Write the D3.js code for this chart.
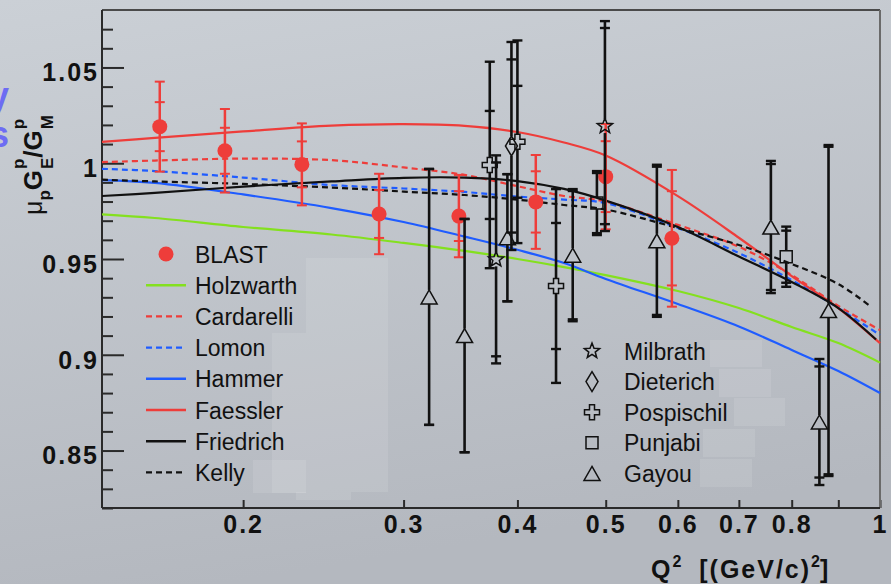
<!DOCTYPE html>
<html>
<head>
<meta charset="utf-8">
<script src="https://cdn.jsdelivr.net/npm/d3@7"></script>
<style>
body { margin: 0; overflow: hidden; }
svg { display: block; }
</style>
</head>
<body>
<script>
// ---- data ----
var qGrid = [0.14, 0.16, 0.2, 0.25, 0.3, 0.35, 0.4, 0.45, 0.5, 0.6, 0.7, 0.8, 0.9, 1.0];
var qFriedrich = [0.14, 0.16, 0.2, 0.25, 0.3, 0.35, 0.4, 0.45, 0.5, 0.6, 0.7, 0.8, 0.9, 0.99];
var qKelly = [0.14, 0.16, 0.2, 0.25, 0.3, 0.35, 0.4, 0.45, 0.5, 0.6, 0.7, 0.8, 0.9, 0.975];

var holzwarth  = [0.9733, 0.9714, 0.9667, 0.9628, 0.9584, 0.9542, 0.9500, 0.9458, 0.9416, 0.9333, 0.9244, 0.9145, 0.9061, 0.8959];
var cardarelli = [1.0006, 1.0014, 1.0024, 1.0016, 0.9978, 0.9939, 0.9880, 0.9829, 0.9800, 0.9678, 0.9564, 0.9416, 0.9255, 0.9129];
var lomon      = [0.9971, 0.9959, 0.9925, 0.9886, 0.9868, 0.9850, 0.9826, 0.9810, 0.9792, 0.9662, 0.9531, 0.9390, 0.9244, 0.9103];
var hammer     = [0.9912, 0.9897, 0.9837, 0.9766, 0.9693, 0.9617, 0.9548, 0.9479, 0.9396, 0.9265, 0.9148, 0.9025, 0.8915, 0.8800];
var faessler   = [1.0111, 1.0132, 1.0166, 1.0196, 1.0204, 1.0195, 1.0163, 1.0108, 1.0040, 0.9828, 0.9611, 0.9411, 0.9244, 0.9061];
var friedrich  = [0.9829, 0.9845, 0.9878, 0.9905, 0.9924, 0.9925, 0.9907, 0.9866, 0.9805, 0.9667, 0.9513, 0.9380, 0.9244, 0.9080];
var kelly      = [0.9914, 0.9905, 0.9892, 0.9873, 0.9852, 0.9834, 0.9810, 0.9782, 0.9758, 0.9662, 0.9573, 0.9474, 0.9369, 0.9255];

var blastQ    = [0.162, 0.191, 0.232, 0.282, 0.345, 0.419, 0.500, 0.591];
var blastR    = [1.0191, 1.0065, 0.9994, 0.9735, 0.9724, 0.9798, 0.9930, 0.9608];
var blastStat = [0.0128, 0.0120, 0.0120, 0.0125, 0.0130, 0.0160, 0.0185, 0.0246];
var blastTot  = [0.0235, 0.0218, 0.0214, 0.0210, 0.0215, 0.0245, 0.0275, 0.0357];

var milbrathQ = [0.379, 0.499];
var milbrathR = [0.9498, 1.0194];
var milbrathStat = [0.0506, 0.0512];
var milbrathTot = [0.0543, 0.0548];

var dieterichQ = [0.394];
var dieterichR = [1.0090];
var dieterichStat = [0.0452];
var dieterichTot = [0.0543];

var pospischilQ = [0.373, 0.400, 0.441];
var pospischilR = [0.9991, 1.0112, 0.9359];
var pospischilStat = [0.0282, 0.0292, 0.0329];
var pospischilTot = [0.0539, 0.0529, 0.0506];

var punjabiQ = [0.489, 0.789];
var punjabiR = [0.9792, 0.9512];
var punjabiStat = [0.0157, 0.0136];
var punjabiTot = [0.0167, 0.0157];

var gayouQ = [0.320, 0.350, 0.390, 0.460, 0.569, 0.759, 0.858, 0.878];
var gayouR = [0.9302, 0.9100, 0.9611, 0.9520, 0.9595, 0.9667, 0.8649, 0.9231];
var gayouStat = [0.0668, 0.0609, 0.0332, 0.0335, 0.0387, 0.0329, 0.0290, 0.0855];
var gayouTot = [0.0668, 0.0609, 0.0332, 0.0345, 0.0397, 0.0345, 0.0329, 0.0864];

var xTicks = [0.2, 0.3, 0.4, 0.5, 0.6, 0.7, 0.8, 0.9, 1];
var yMajor = [0.85, 0.9, 0.95, 1, 1.05];
var yMinor = [0.82, 0.83, 0.84, 0.86, 0.87, 0.88, 0.89, 0.91, 0.92, 0.93, 0.94,
              0.96, 0.97, 0.98, 0.99, 1.01, 1.02, 1.03, 1.04, 1.06, 1.07];

// ---- setup ----
var W = 891, H = 584;
var RED = "#ee3d3a", GREEN = "#84e01f", BLUE = "#1f5cff", BLK = "#111";

var svg = d3.select("body").append("svg")
    .attr("width", W)
    .attr("height", H)
    .style("font-family", "'Liberation Sans', Arial, sans-serif");

var defs = svg.append("defs");
var grad = defs.append("linearGradient").attr("id", "bg")
    .attr("x1", 0).attr("y1", 0).attr("x2", 0.25).attr("y2", 1);
grad.append("stop").attr("offset", "0%").attr("stop-color", "#cbd0d6");
grad.append("stop").attr("offset", "100%").attr("stop-color", "#b4b8bf");

svg.append("rect").attr("width", W).attr("height", H).attr("fill", "url(#bg)");

// leftover slide text, cut by the left edge as in the source picture
svg.append("text").attr("x", 9).attr("y", 108).attr("text-anchor", "end")
    .attr("font-size", 36).attr("font-weight", "bold").attr("fill", "#6d6cf3").text("y");
svg.append("text").attr("x", 9).attr("y", 147).attr("text-anchor", "end")
    .attr("font-size", 36).attr("font-weight", "bold").attr("fill", "#6d6cf3").text("s");

var x = d3.scaleLog().domain([0.14, 1]).range([102, 880]);
var y = d3.scaleLinear().domain([0.82, 1.08]).range([508, 10]);

// light patches behind the legends
var patches = [[306, 258, 82, 234], [272, 333, 34, 160], [253, 460, 53, 33], [296, 492, 55, 8],
               [710, 340, 52, 27], [719, 369, 52, 28], [734, 398, 51, 28], [703, 429, 52, 28], [700, 459, 52, 28]];
svg.selectAll("rect.patch").data(patches).enter().append("rect")
    .attr("class", "patch")
    .attr("x", function(d) { return d[0]; })
    .attr("y", function(d) { return d[1]; })
    .attr("width", function(d) { return d[2]; })
    .attr("height", function(d) { return d[3]; })
    .attr("fill", "#fff").attr("opacity", 0.1);

// ---- axes ----
var xAxis = d3.axisBottom(x).tickValues(xTicks)
    .tickSizeInner(-8).tickSizeOuter(0).tickPadding(7)
    .tickFormat(function(d) { return d === 0.9 ? "" : String(d); });
var gx = svg.append("g").attr("transform", "translate(0,508)").call(xAxis);

var yAxisMinor = d3.axisLeft(y).tickValues(yMinor)
    .tickSizeInner(-11).tickSizeOuter(0).tickFormat("");
var gym = svg.append("g").attr("transform", "translate(102,0)").call(yAxisMinor);

var yAxis = d3.axisLeft(y).tickValues(yMajor)
    .tickSizeInner(-22).tickSizeOuter(0).tickPadding(3)
    .tickFormat(function(d) { return String(d); });
var gy = svg.append("g").attr("transform", "translate(102,0)").call(yAxis);

[gx, gym, gy].forEach(function(g) {
    g.select(".domain").remove();
    g.selectAll(".tick line").attr("stroke", "#2a2a2a").attr("stroke-width", 2);
    g.selectAll(".tick text")
        .attr("fill", "#111")
        .style("font-family", "'Liberation Sans', Arial, sans-serif")
        .style("font-size", "25px")
        .style("font-weight", "bold")
        .style("letter-spacing", "2px");
});
gy.selectAll(".tick text").attr("dy", "0.53em");

// frame
svg.append("line").attr("x1", 102).attr("x2", 880).attr("y1", 10).attr("y2", 10)
    .attr("stroke", "#4a4a4a").attr("stroke-width", 2);
svg.append("line").attr("x1", 880).attr("x2", 880).attr("y1", 10).attr("y2", 508)
    .attr("stroke", "#6a6a6a").attr("stroke-width", 2);
svg.append("line").attr("x1", 102).attr("x2", 880).attr("y1", 508).attr("y2", 508)
    .attr("stroke", "#2a2a2a").attr("stroke-width", 2);
svg.append("line").attr("x1", 102).attr("x2", 102).attr("y1", 10).attr("y2", 508)
    .attr("stroke", "#2a2a2a").attr("stroke-width", 2);

// ---- model curves ----
var models = [
    {name: "Holzwarth", q: qGrid, v: holzwarth, color: GREEN, dash: null},
    {name: "Cardarelli", q: qGrid, v: cardarelli, color: RED, dash: "6,4"},
    {name: "Lomon", q: qGrid, v: lomon, color: BLUE, dash: "6,4"},
    {name: "Hammer", q: qGrid, v: hammer, color: BLUE, dash: null},
    {name: "Faessler", q: qGrid, v: faessler, color: RED, dash: null},
    {name: "Friedrich", q: qFriedrich, v: friedrich, color: BLK, dash: null},
    {name: "Kelly", q: qKelly, v: kelly, color: BLK, dash: "6,4"}
];

var line = d3.line()
    .x(function(d) { return x(d[0]); })
    .y(function(d) { return y(d[1]); })
    .curve(d3.curveCatmullRom.alpha(0.5));

models.forEach(function(m) {
    var pts = m.q.map(function(q, i) { return [q, m.v[i]]; });
    svg.append("path").attr("d", line(pts))
        .attr("fill", "none")
        .attr("stroke", m.color)
        .attr("stroke-width", 2.2)
        .attr("stroke-dasharray", m.dash);
});

// ---- markers ----
function starPath(R, r) {
    var p = [];
    for (var i = 0; i < 10; i++) {
        var a = -Math.PI / 2 + i * Math.PI / 5;
        var rr = i % 2 === 0 ? R : r;
        p.push([rr * Math.cos(a), rr * Math.sin(a)]);
    }
    return "M" + p.map(function(d) { return d[0].toFixed(2) + "," + d[1].toFixed(2); }).join("L") + "Z";
}
var markers = {
    star: {d: starPath(8, 3.4), gap: 7},
    diamond: {d: "M0,-10L6,0L0,10L-6,0Z", gap: 10},
    cross: {d: "M-2.5,-7.5H2.5V-2.5H7.5V2.5H2.5V7.5H-2.5V2.5H-7.5V-2.5H-2.5Z", gap: 7.5},
    square: {d: "M-6,-6H6V6H-6Z", gap: 6},
    triangle: {d: "M0,-7L8,7L-8,7Z", gap: 7}
};

// ---- BLAST points ----
var blast = blastQ.map(function(q, i) {
    return {q: q, r: blastR[i], s: blastStat[i], t: blastTot[i]};
});
var gb = svg.append("g");
blast.forEach(function(d) {
    var cx = x(d.q);
    gb.append("line").attr("x1", cx).attr("x2", cx)
        .attr("y1", y(d.r + d.t)).attr("y2", y(d.r - d.t))
        .attr("stroke", RED).attr("stroke-width", 2.5);
    [d.r + d.t, d.r - d.t, d.r + d.s, d.r - d.s].forEach(function(v) {
        gb.append("line").attr("x1", cx - 5).attr("x2", cx + 5)
            .attr("y1", y(v)).attr("y2", y(v))
            .attr("stroke", RED).attr("stroke-width", 2);
    });
    gb.append("circle").attr("cx", cx).attr("cy", y(d.r)).attr("r", 7.5).attr("fill", RED);
});

// ---- world data ----
var world = [
    {name: "Milbrath", marker: "star", q: milbrathQ, r: milbrathR, s: milbrathStat, t: milbrathTot},
    {name: "Dieterich", marker: "diamond", q: dieterichQ, r: dieterichR, s: dieterichStat, t: dieterichTot},
    {name: "Pospischil", marker: "cross", q: pospischilQ, r: pospischilR, s: pospischilStat, t: pospischilTot},
    {name: "Punjabi", marker: "square", q: punjabiQ, r: punjabiR, s: punjabiStat, t: punjabiTot},
    {name: "Gayou", marker: "triangle", q: gayouQ, r: gayouR, s: gayouStat, t: gayouTot}
];

var gw = svg.append("g");
world.forEach(function(set) {
    var mk = markers[set.marker];
    set.q.forEach(function(q, i) {
        var cx = x(q), cy = y(set.r[i]);
        var top = y(set.r[i] + set.t[i]), bot = y(set.r[i] - set.t[i]);
        gw.append("line").attr("x1", cx).attr("x2", cx).attr("y1", top).attr("y2", cy - mk.gap)
            .attr("stroke", BLK).attr("stroke-width", 2.6);
        gw.append("line").attr("x1", cx).attr("x2", cx).attr("y1", cy + mk.gap).attr("y2", bot)
            .attr("stroke", BLK).attr("stroke-width", 2.6);
        [set.r[i] + set.t[i], set.r[i] - set.t[i], set.r[i] + set.s[i], set.r[i] - set.s[i]].forEach(function(v) {
            gw.append("line").attr("x1", cx - 5).attr("x2", cx + 5)
                .attr("y1", y(v)).attr("y2", y(v))
                .attr("stroke", BLK).attr("stroke-width", 2.4);
        });
        gw.append("path").attr("d", mk.d)
            .attr("transform", "translate(" + cx + "," + cy + ")")
            .attr("fill", "none").attr("stroke", BLK).attr("stroke-width", 1.5);
    });
});

// ---- legends ----
var legL = svg.append("g");
var rowL = function(i) { return 254 + i * 31.2; };
legL.append("circle").attr("cx", 166).attr("cy", rowL(0)).attr("r", 7.5).attr("fill", RED);
legL.append("text").attr("x", 195).attr("y", rowL(0) + 8.5).text("BLAST");
models.forEach(function(m, i) {
    var yy = rowL(i + 1);
    legL.append("line").attr("x1", 146).attr("x2", 186).attr("y1", yy).attr("y2", yy)
        .attr("stroke", m.color).attr("stroke-width", 2.4)
        .attr("stroke-dasharray", m.dash);
    legL.append("text").attr("x", 195).attr("y", yy + 8.5).text(m.name);
});

var legR = svg.append("g");
world.forEach(function(set, i) {
    var yy = 351 + i * 30.6;
    legR.append("path").attr("d", markers[set.marker].d)
        .attr("transform", "translate(592," + yy + ")")
        .attr("fill", "none").attr("stroke", BLK).attr("stroke-width", 1.5);
    legR.append("text").attr("x", 624).attr("y", yy + 8.5).text(set.name);
});
svg.selectAll("g text").filter(function() { return !this.closest(".tick"); })
    .attr("font-size", 23).attr("fill", "#111");

// ---- titles with sub / superscripts ----
function richText(g, pieces) {
    var cur = 0, stackStart = 0;
    pieces.forEach(function(p) {
        var el = g.append("text").text(p.t)
            .attr("font-size", p.size)
            .attr("font-weight", p.weight || "bold")
            .attr("fill", "#111")
            .attr("y", p.dy || 0)
            .style("letter-spacing", (p.ls || 0) + "px");
        var px = p.stack ? stackStart : cur;
        el.attr("x", px);
        var w = el.node().getComputedTextLength();
        if (p.stack) {
            cur = Math.max(cur, px + w);
        } else {
            stackStart = cur;
            cur = cur + w;
        }
    });
    return cur;
}

var gyt = svg.append("g");
var ylen = richText(gyt, [
    {t: "\u03bc", size: 25, weight: "normal"},
    {t: "p", size: 17, dy: 8},
    {t: "G", size: 26, ls: 1},
    {t: "p", size: 17, dy: -18},
    {t: "E", size: 17, dy: 11, stack: true},
    {t: "/", size: 26},
    {t: "G", size: 26, ls: 1},
    {t: "p", size: 17, dy: -18},
    {t: "M", size: 17, dy: 11, stack: true}
]);
gyt.attr("transform", "translate(42," + (165 + ylen / 2) + ") rotate(-90)");

var gxt = svg.append("g").attr("transform", "translate(651,578)");
richText(gxt, [
    {t: "Q", size: 25, ls: 2},
    {t: "2", size: 16, dy: -11},
    {t: "\u00a0\u00a0[(GeV/c)", size: 25, ls: 2},
    {t: "2", size: 16, dy: -11},
    {t: "]", size: 25, ls: 2}
]);
</script>
</body>
</html>
